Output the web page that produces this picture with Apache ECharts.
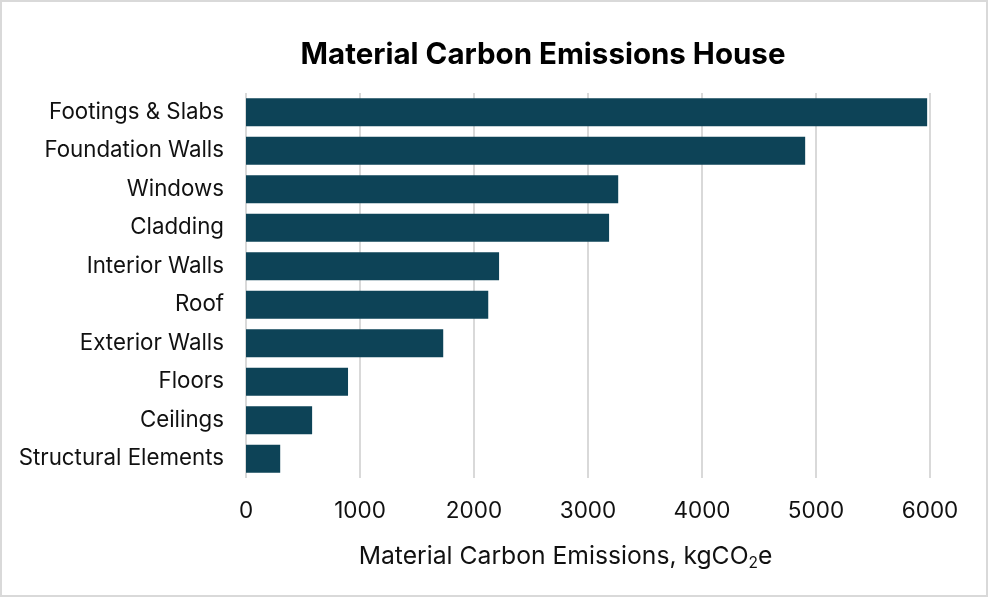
<!DOCTYPE html>
<html>
<head>
<meta charset="utf-8">
<style>
  html, body { margin: 0; padding: 0; background: #fff; }
  #chart { width: 988px; height: 597px; }
</style>
<script src="https://cdn.jsdelivr.net/npm/echarts@6/dist/echarts.min.js"></script>
</head>
<body>
<div id="chart"></div>
<script>
// Building elements, listed top to bottom
const categories = [
  'Footings & Slabs',
  'Foundation Walls',
  'Windows',
  'Cladding',
  'Interior Walls',
  'Roof',
  'Exterior Walls',
  'Floors',
  'Ceilings',
  'Structural Elements'
];
// Material carbon emissions per element, kgCO2e
const emissions = [5975, 4905, 3265, 3185, 2220, 2125, 1730, 895, 580, 300];
const xTicks = [0, 1000, 2000, 3000, 4000, 5000, 6000];

const FONT = 'Inter, "Open Sans", sans-serif';
const BAR = '#0d4357';

const chart = echarts.init(document.getElementById('chart'), null, { renderer: 'canvas' });
chart.setOption({
  animation: false,
  backgroundColor: '#ffffff',
  title: {
    text: 'Material Carbon Emissions House',
    left: 538,
    textAlign: 'center',
    top: 35,
    textStyle: { fontFamily: FONT, fontWeight: 'bold', fontSize: 29.5, color: '#000' }
  },
  graphic: [{
    type: 'rect',
    shape: { x: 1, y: 1, width: 986, height: 595 },
    style: { fill: 'none', stroke: '#d9d9d9', lineWidth: 2 },
    silent: true
  }],
  grid: { left: 246, right: 58, top: 93, bottom: 119 },
  xAxis: {
    type: 'value',
    min: xTicks[0],
    max: xTicks[xTicks.length - 1],
    interval: 1000,
    axisLine: { show: false },
    axisTick: { show: false },
    splitLine: { show: true, lineStyle: { color: '#d9d9d9', width: 2 } },
    axisLabel: {
      margin: 22,
      formatter: (v) => String(v),
      fontFamily: FONT, fontSize: 22.5, color: '#111'
    },
    name: '{m|Material Carbon Emissions, kgCO}{s|2}{m|e}',
    nameLocation: 'middle',
    nameGap: 65,
    nameTextStyle: {
      fontFamily: FONT, fontSize: 24.7, color: '#111',
      padding: [0, 45, 0, 0],
      rich: {
        m: { fontFamily: FONT, fontSize: 24.7, color: '#111', lineHeight: 28 },
        s: { fontFamily: FONT, fontSize: 15.5, color: '#111', lineHeight: 15, verticalAlign: 'bottom' }
      }
    }
  },
  yAxis: {
    type: 'category',
    data: categories,
    inverse: true,
    axisLine: { show: false },
    axisTick: { show: false },
    axisLabel: {
      margin: 22,
      fontFamily: FONT, fontSize: 22.3, color: '#111'
    }
  },
  series: [{
    type: 'bar',
    data: emissions,
    barCategoryGap: '27%',
    itemStyle: { color: BAR },
    silent: true
  }]
});
</script>
</body>
</html>
